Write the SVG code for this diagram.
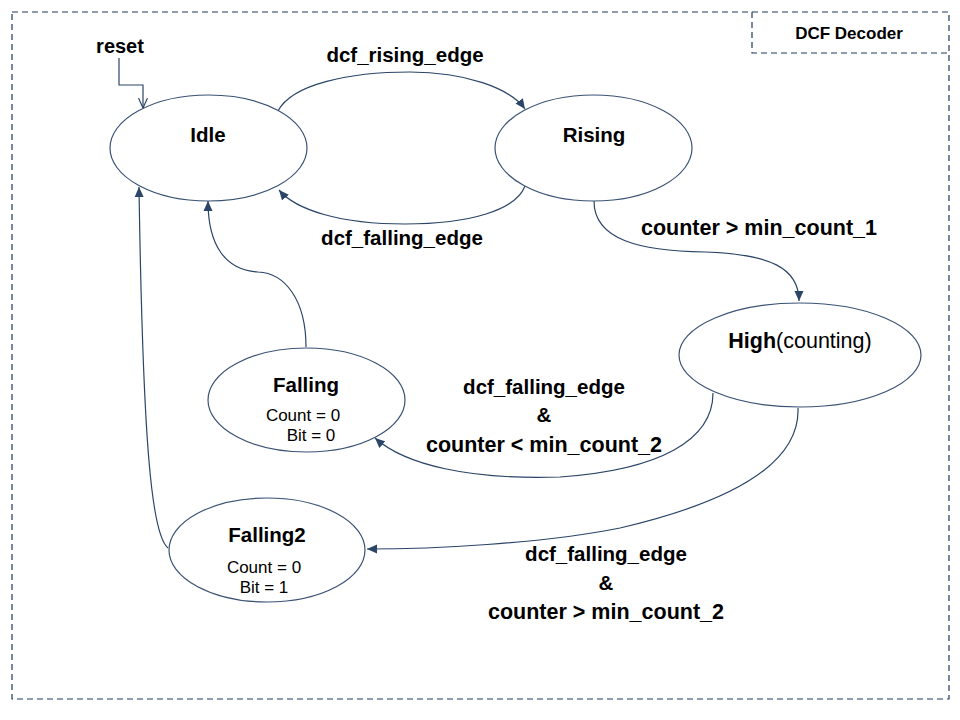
<svg xmlns="http://www.w3.org/2000/svg" width="960" height="720" viewBox="0 0 960 720">
<defs>
<marker id="arr" viewBox="0 0 10 10" refX="10" refY="5" markerWidth="10" markerHeight="10" markerUnits="userSpaceOnUse" orient="auto">
<path d="M0,0.5 L10,5 L0,9.5 Z" fill="#2B4568"/>
</marker>
<marker id="open" viewBox="0 0 10 10" refX="10" refY="5" markerWidth="10" markerHeight="10" markerUnits="userSpaceOnUse" orient="auto">
<path d="M0,0.5 L10,5 L0,9.5" fill="none" stroke="#2B4568" stroke-width="1.2"/>
</marker>
</defs>
<style>
.st{fill:#fff;stroke:#3A5274;stroke-width:1.2}
.c{fill:none;stroke:#2B4568;stroke-width:1.2}
.b{font-family:"Liberation Sans",Arial,sans-serif;font-weight:bold;font-size:20.5px;fill:#000;text-anchor:middle}
.n{font-family:"Liberation Sans",Arial,sans-serif;font-size:17px;fill:#000;text-anchor:middle}
.dash{fill:none;stroke:#1F3A5F;stroke-width:1.2;stroke-dasharray:6,4}
</style>
<rect x="0" y="0" width="960" height="720" fill="#fff"/>
<rect class="dash" x="12" y="12" width="937" height="687"/>
<g id="title">
<path class="dash" d="M752,12 V53 H949"/>
<text x="849" y="39" class="b" style="font-size:17px">DCF Decoder</text>
</g>
<g id="connectors">
<path class="c" d="M119,58 V85 H143 V108" marker-end="url(#open)"/>
<path class="c" d="M278,111 C292,84 350,72 410,72 C465,72 510,88 525,109" marker-end="url(#arr)"/>
<path class="c" d="M525,186 C516,210 470,224 405,224 C340,224 296,210 279,190" marker-end="url(#arr)"/>
<path class="c" d="M594,201 C594,240 640,251 705,252 C770,254 799,268 799,301" marker-end="url(#arr)"/>
<path class="c" d="M713,393 C713,440 660,470 560,477 C470,480 405,465 375,438" marker-end="url(#arr)"/>
<path class="c" d="M798,408 C800,460 740,500 620,528 C540,544 430,549 367,549" marker-end="url(#arr)"/>
<path class="c" d="M306,347 C306,300 285,273 258,272 C225,270 208,245 208,201" marker-end="url(#arr)"/>
<path class="c" d="M168,548 C152,535 143,450 139,187" marker-end="url(#arr)"/>
</g>
<g id="labels">
<text x="120" y="53" class="b" style="font-size:20px">reset</text>
<text x="405" y="62" class="b">dcf_rising_edge</text>
<text x="402" y="245" class="b">dcf_falling_edge</text>
<text x="759" y="235" class="b" style="font-size:21.5px">counter &gt; min_count_1</text>
<text x="544" y="394" class="b">dcf_falling_edge</text>
<text x="544" y="422" class="b">&amp;</text>
<text x="544" y="452" class="b" style="font-size:21.5px">counter &lt; min_count_2</text>
<text x="606" y="561" class="b">dcf_falling_edge</text>
<text x="606" y="590" class="b">&amp;</text>
<text x="606" y="619" class="b" style="font-size:21.5px">counter &gt; min_count_2</text>
</g>
<g id="idle">
<ellipse class="st" cx="208.5" cy="148" rx="98.5" ry="53"/>
<text x="208" y="142" class="b">Idle</text>
</g>
<g id="rising">
<ellipse class="st" cx="593.5" cy="148" rx="98.5" ry="53"/>
<text x="594" y="142" class="b">Rising</text>
</g>
<g id="high">
<ellipse class="st" cx="800" cy="355" rx="121" ry="52"/>
<text x="800" y="348" class="b" style="font-size:21.5px"><tspan>High</tspan><tspan font-weight="normal">(counting)</tspan></text>
</g>
<g id="falling">
<ellipse class="st" cx="306.5" cy="400" rx="98.5" ry="52"/>
<text x="306" y="392" class="b">Falling</text>
<text x="303" y="421" class="n">Count = 0</text>
<text x="311" y="441" class="n">Bit = 0</text>
</g>
<g id="falling2">
<ellipse class="st" cx="267" cy="550" rx="98" ry="52"/>
<text x="267" y="542" class="b">Falling2</text>
<text x="264" y="573" class="n">Count = 0</text>
<text x="264" y="593" class="n">Bit = 1</text>
</g>
</svg>
